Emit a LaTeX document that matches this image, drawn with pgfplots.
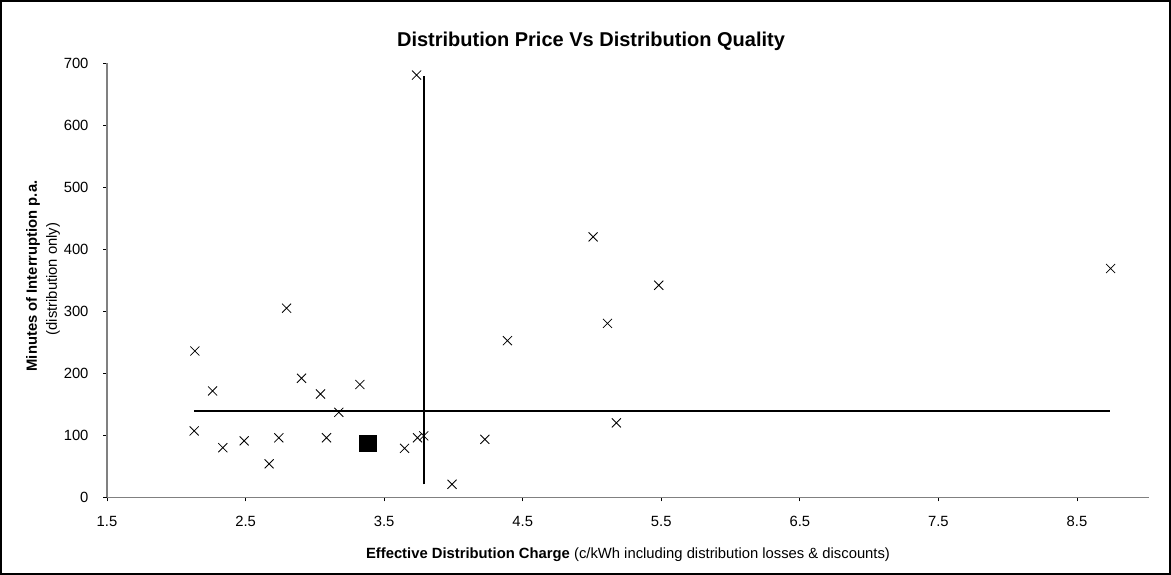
\documentclass[border=0pt]{standalone}
\usepackage{fontspec}
\setmainfont{Liberation Sans}
\usepackage{pgfplots}
\pgfplotsset{compat=1.18}
\begin{document}
\begin{tikzpicture}[x=1pt,y=1pt]
\useasboundingbox (0,0) rectangle (1171,575);
\draw[line width=1.5pt] (1,1) rectangle (1170,574);
\node[font=\fontsize{20}{23}\selectfont\bfseries] at (591,534) {Distribution Price Vs Distribution Quality};
\begin{axis}[at={(107pt,77.7pt)}, anchor=south west, scale only axis,
  width=1042pt, height=434pt,
  xmin=1.5, xmax=9.02, ymin=0, ymax=700,
  xtick={1.5,2.5,3.5,4.5,5.5,6.5,7.5,8.5},
  ytick={0,100,200,300,400,500,600,700},
  axis lines=left,
  x axis line style={-, draw=gray, line width=1.5pt},
  y axis line style={-, draw=gray, line width=1.5pt},
  tick align=outside, major tick length=4pt,
  tick style={black, line width=0.8pt},
  /pgf/number format/assume math mode=true,
  xticklabel style={font=\fontsize{14.8}{17}\selectfont, yshift=-11pt},
  yticklabel style={font=\fontsize{14.8}{17}\selectfont, xshift=-11pt},
  clip=false]
\addplot[black, line width=2pt] coordinates {(3.79,21) (3.79,680)};
\addplot[black, line width=2pt] coordinates {(2.13,139) (8.74,139)};
\addplot[only marks, mark=x, mark size=6.4pt, mark options={line width=0.8pt}] coordinates {
(2.134,236) (2.262,171.5) (2.796,305) (2.904,192) (3.041,166.6) (3.173,137) (3.325,182)
(2.129,107) (2.336,80) (2.49,91) (2.74,96) (2.67,54) (3.084,96) (3.647,79) (3.741,96)
(3.786,99) (3.99,21) (4.227,93.5) (3.734,681) (5.008,420) (5.482,342) (5.112,280.6)
(4.39,252.6) (5.176,120) (8.743,369)};
\addplot[only marks, mark=square*, mark size=8.2pt, fill=black] coordinates {(3.38,87)};
\end{axis}
\node[font=\fontsize{14.8}{17}\selectfont] at (628,20) {\textbf{Effective Distribution Charge} (c/kWh including distribution losses \& discounts)};
\node[font=\fontsize{14.8}{17}\selectfont\bfseries, rotate=90] at (33,299) {Minutes of Interruption p.a.};
\node[font=\fontsize{14.8}{17}\selectfont, rotate=90] at (53,296) {(distribution only)};
\end{tikzpicture}
\end{document}
